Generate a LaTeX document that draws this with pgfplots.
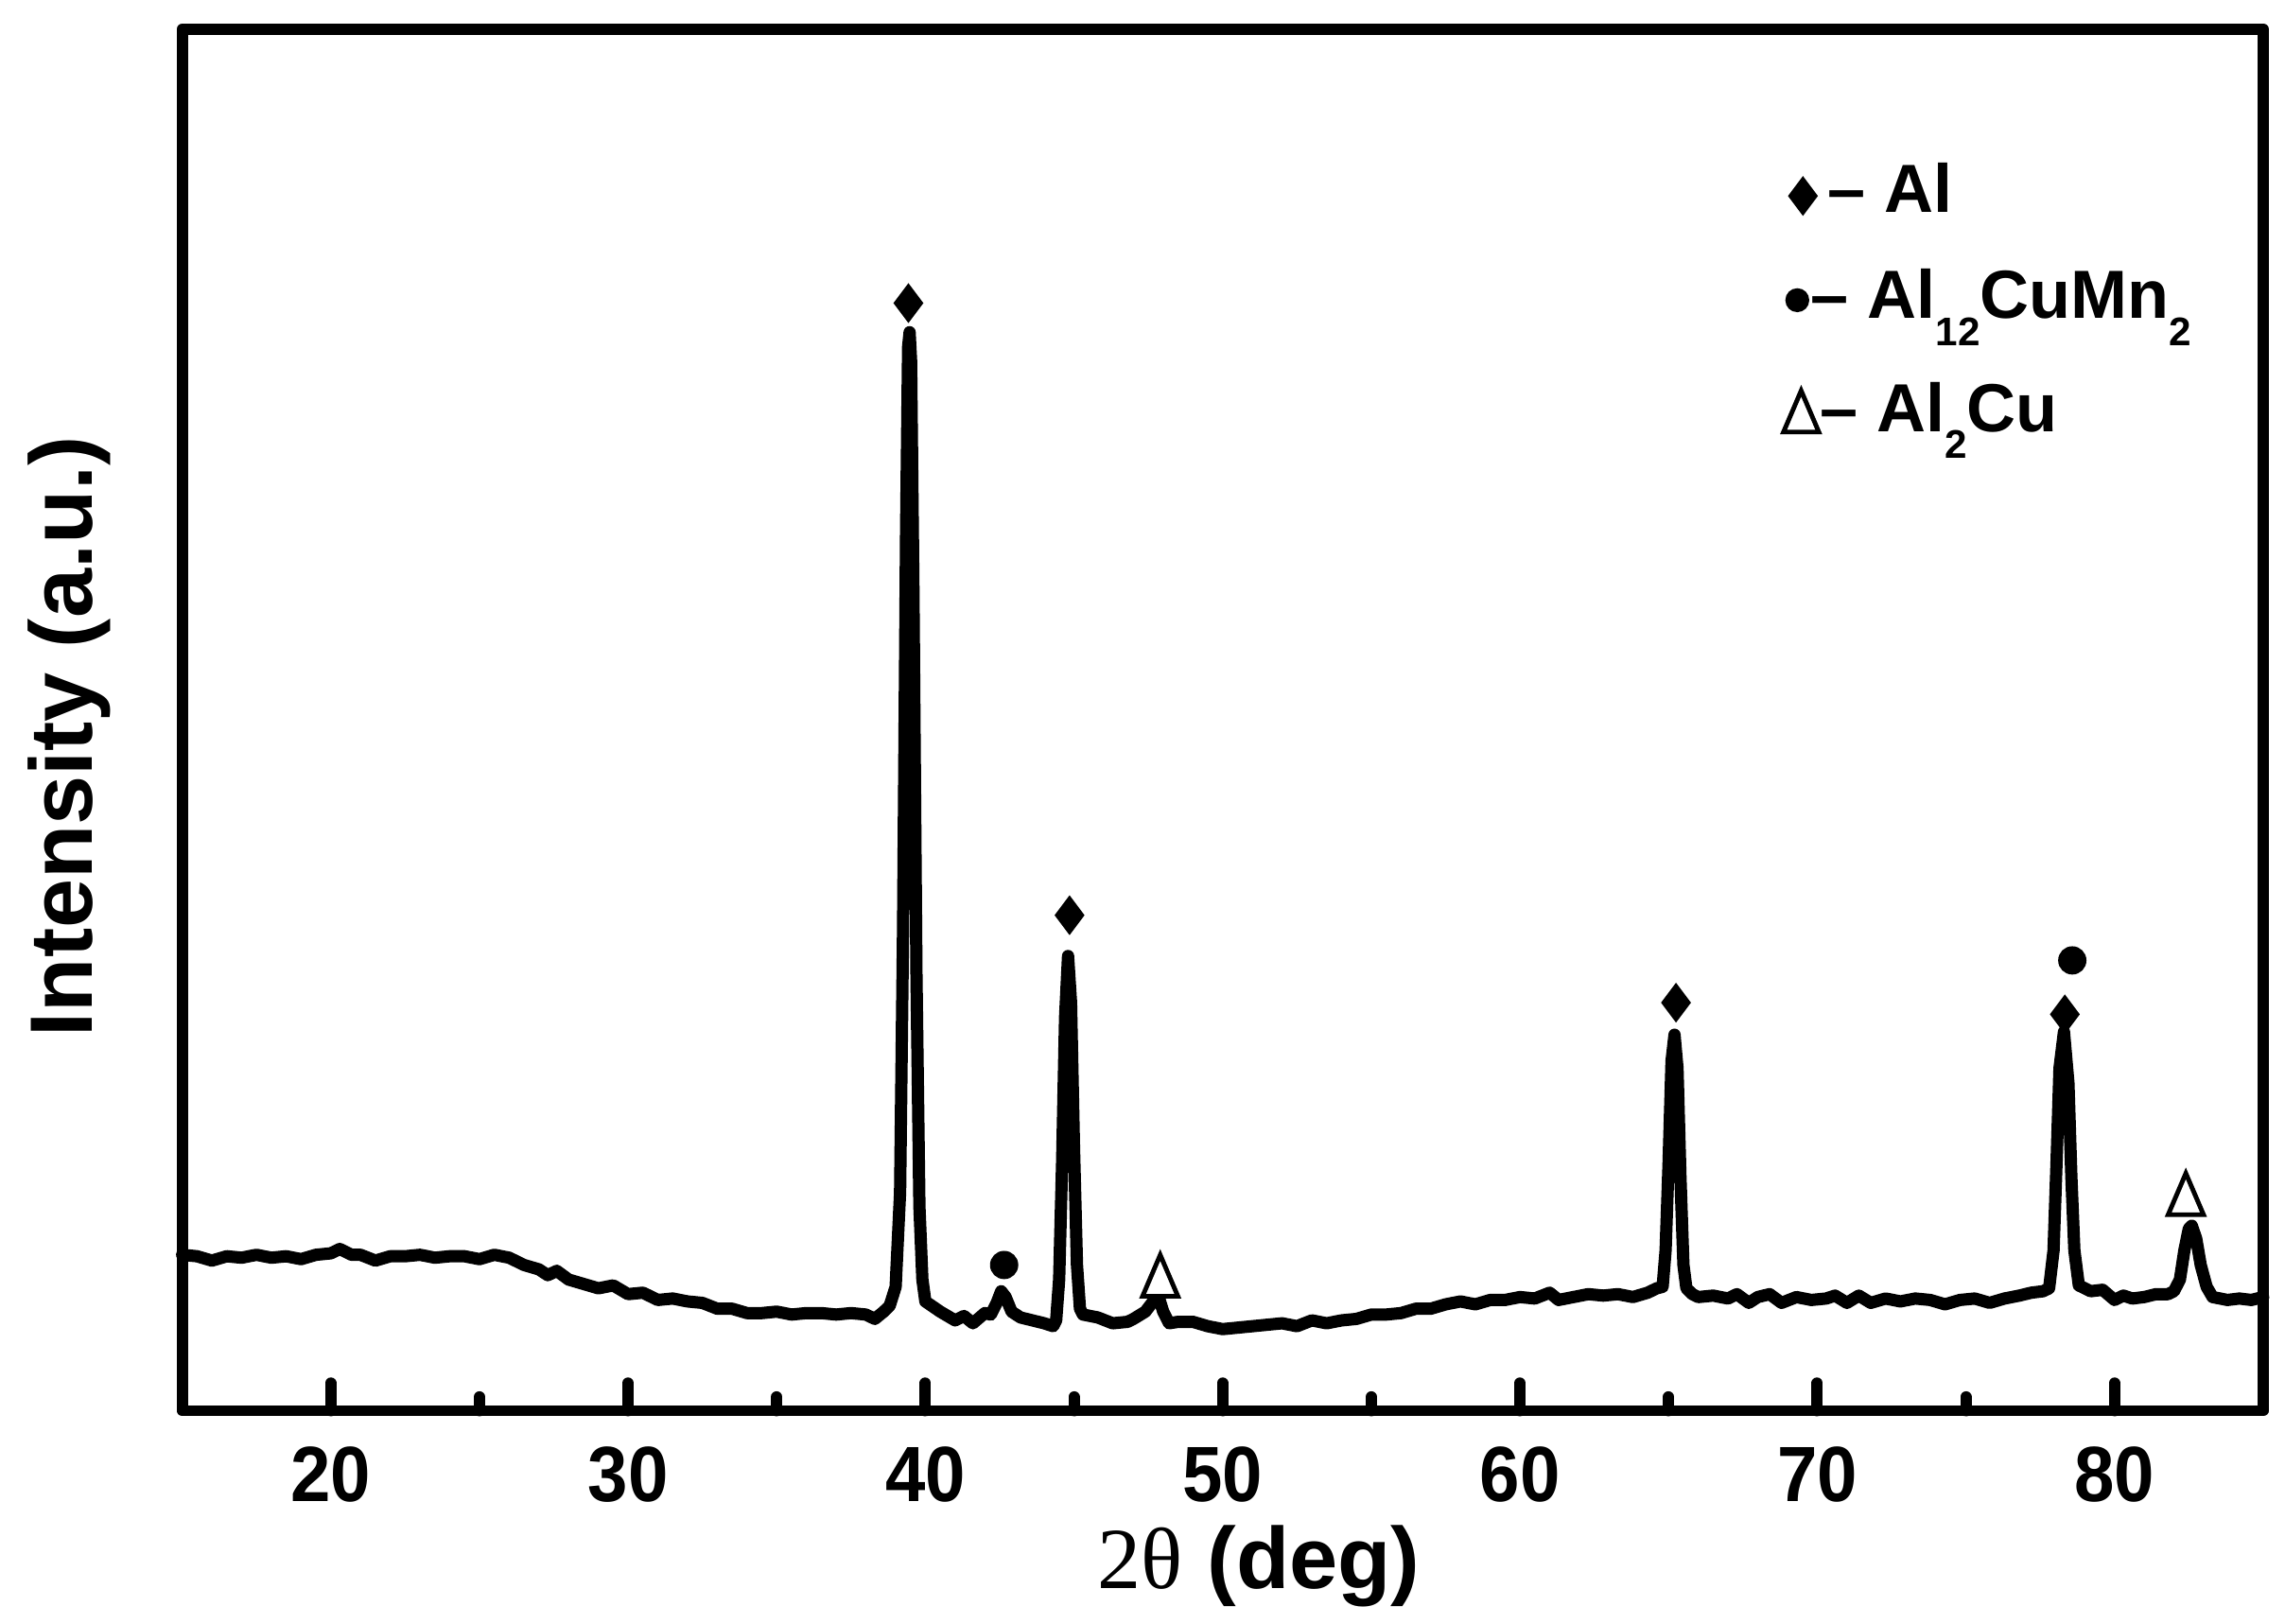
\documentclass[border=0pt]{standalone}
\usepackage{fontspec}
\setmainfont{Liberation Sans}
\newfontfamily\serifgreek{Liberation Serif}
\newfontfamily\tickfont{Liberation Sans}[FakeStretch=0.92]
\usepackage{pgfplots}
\pgfplotsset{compat=1.18}
\newcommand{\sub}[1]{\raisebox{-1.84mm}{\fontsize{7.8}{7.8}\selectfont #1}}

\begin{document}
\begin{tikzpicture}
\begin{axis}[
    name=main,
    scale only axis,
    width=142.8mm, height=94.8mm,
    xmin=15, xmax=85, ymin=0, ymax=948,
    axis line style={line width=2.2pt, line join=round, line cap=round},
    xtick={20,30,...,80},
    minor xtick={25,35,...,75},
    ytick=\empty,
    tick pos=left,
    tick align=inside,
    major tick length=1.9mm,
    minor tick length=0.95mm,
    every tick/.style={black, line width=2.2pt, line cap=round},
    /pgf/number format/assume math mode=true,
    xticklabel style={font=\tickfont\bfseries\fontsize{15.3}{15.3}\selectfont, inner sep=0pt, anchor=north, yshift=-2.4mm},
    xlabel={{\serifgreek\mdseries 2θ} (deg)},
    ylabel={Intensity (a.u.)},
    xlabel style={font=\bfseries\fontsize{17}{17}\selectfont, inner sep=0pt, at={(axis description cs:0.5175,-0.1287)}, anchor=base},
    ylabel style={font=\bfseries\fontsize{17.3}{17.3}\selectfont, inner sep=0pt, at={(axis description cs:-0.0541,0.488)}, anchor=center},
    clip=false,
]
% XRD pattern
\addplot[black, line width=2.4pt, line join=round, line cap=round] coordinates {
(15.0,107) (15.5,106) (16.0,103) (16.5,106) (17.0,105) (17.5,107) (18.0,105)
(18.5,106) (19.0,104) (19.5,107) (20.0,108) (20.3,111) (20.7,107) (21.0,107)
(21.5,103) (22.0,106) (22.5,106) (23.0,107) (23.5,105) (24.0,106) (24.5,106)
(25.0,104) (25.5,107) (26.0,105) (26.5,100) (27.0,97) (27.3,93) (27.6,96)
(28.0,90) (28.5,87) (29.0,84) (29.5,86) (30.0,80) (30.5,81) (31.0,76)
(31.5,77) (32.0,75) (32.5,74) (33.0,70) (33.5,70) (34.0,67) (34.5,67)
(35.0,68) (35.5,66) (36.0,67) (36.5,67) (37.0,66) (37.5,67) (38.0,66)
(38.3,63) (38.6,68) (38.8,72) (39.0,85) (39.15,150) (39.25,330) (39.35,600)
(39.42,730) (39.47,740) (39.52,720) (39.6,560) (39.7,300) (39.8,140) (39.9,90)
(40.0,75) (40.5,68) (41.0,62) (41.3,65) (41.6,60) (42.0,67) (42.2,66)
(42.4,74) (42.55,82) (42.7,78) (42.9,68) (43.2,64) (43.6,62) (44.0,60)
(44.3,58) (44.4,62) (44.5,90) (44.6,170) (44.7,270) (44.8,312) (44.9,280)
(45.0,180) (45.1,100) (45.2,70) (45.3,66) (45.8,64) (46.3,60) (46.8,61)
(47.0,63) (47.4,68) (47.7,76) (47.85,78) (48.0,68) (48.2,60) (48.5,61)
(49.0,61) (49.5,58) (50.0,56) (50.5,57) (51.0,58) (51.5,59) (52.0,60)
(52.5,58) (53.0,62) (53.5,60) (54.0,62) (54.5,63) (55.0,66) (55.5,66)
(56.0,67) (56.5,70) (57.0,70) (57.5,73) (58.0,75) (58.5,73) (59.0,76)
(59.5,76) (60.0,78) (60.5,77) (61.0,81) (61.3,76) (61.8,78) (62.3,80)
(62.8,79) (63.3,80) (63.8,78) (64.3,81) (64.6,84) (64.8,85) (64.9,110)
(65.0,170) (65.1,240) (65.2,258) (65.3,235) (65.4,160) (65.5,100) (65.6,84)
(65.8,80) (66.0,78) (66.5,79) (67.0,77) (67.3,80) (67.7,74) (68.0,78)
(68.4,80) (68.8,74) (69.3,78) (69.8,76) (70.3,77) (70.6,79) (71.0,74)
(71.4,79) (71.8,74) (72.3,77) (72.8,75) (73.3,77) (73.8,76) (74.3,73)
(74.8,76) (75.3,77) (75.8,74) (76.3,77) (76.8,79) (77.2,81) (77.6,82)
(77.8,84) (77.95,110) (78.05,170) (78.15,235) (78.3,260) (78.45,225) (78.55,160)
(78.65,110) (78.8,86) (79.2,82) (79.6,83) (80.0,76) (80.3,79) (80.6,77)
(81.0,78) (81.4,80) (81.8,80) (82.0,82) (82.2,90) (82.35,110) (82.5,125)
(82.6,127) (82.75,118) (82.9,100) (83.1,85) (83.3,78) (83.8,76) (84.2,77)
(84.6,76) (85.0,78)
};
% phase markers over the peaks (last point of each = key entry)
\addplot[only marks, mark=diamond*, mark size=1.25mm, black, mark options={line width=0.4pt}]
    coordinates {(39.43,760) (44.85,340) (65.25,280) (78.33,272) (69.52,833.5)};
\addplot[only marks, mark=*, mark size=0.9mm, black, mark options={line width=0.4pt}]
    coordinates {(42.65,100) (78.58,309)};
\addplot[only marks, mark=*, mark size=0.75mm, black, mark options={line width=0.4pt}]
    coordinates {(69.33,762)};
\addplot[only marks, mark=triangle*, mark size=1.4mm, black,
    mark options={fill=white, line width=0.9pt, yscale=1.35}]
    coordinates {(47.9,88) (82.4,144) (69.46,681)};
% key text
\node[font=\bfseries\fontsize{13.3}{13.3}\selectfont, anchor=base west, inner sep=0pt]
    at (axis cs:70.32,822) {– Al};
\node[font=\bfseries\fontsize{13.3}{13.3}\selectfont, anchor=base west, inner sep=0pt]
    at (axis cs:69.75,749.5) {– Al\sub{12}CuMn\sub{2}};
\node[font=\bfseries\fontsize{13.3}{13.3}\selectfont, anchor=base west, inner sep=0pt]
    at (axis cs:70.05,671.7) {– Al\sub{2}Cu};
\end{axis}
\path (main.south west) ++(-12.5mm,-14.6mm) (main.north east) ++(1.5mm,2mm);
\end{tikzpicture}
\end{document}
